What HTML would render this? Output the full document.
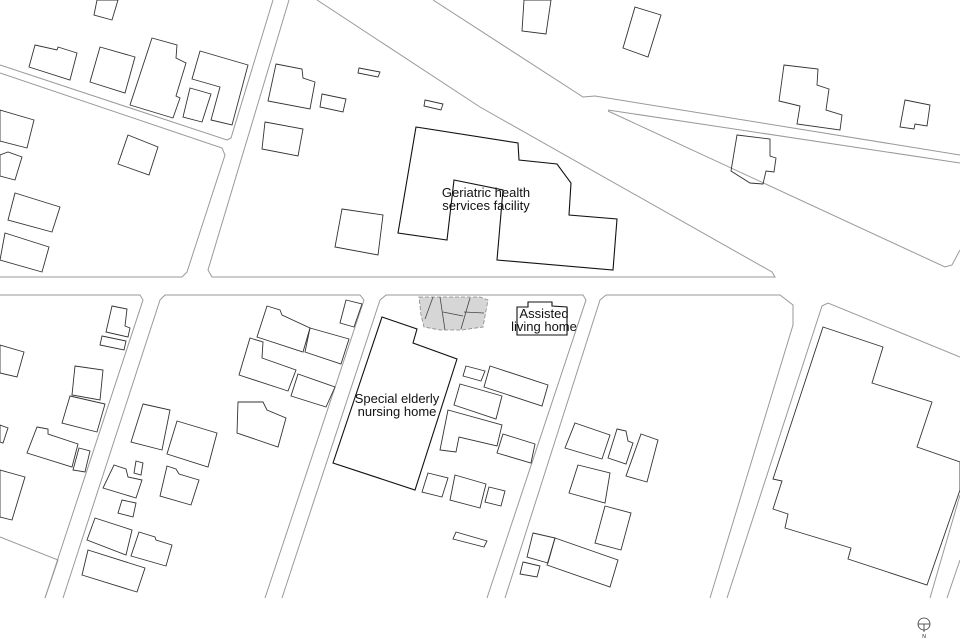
<!DOCTYPE html>
<html><head><meta charset="utf-8"><style>
html,body{margin:0;padding:0;background:#fff;}
svg{display:block;}
text{font-family:"Liberation Sans",sans-serif;font-size:13px;fill:#111;}
</style></head><body>
<svg width="960" height="639" viewBox="0 0 960 639" xmlns="http://www.w3.org/2000/svg">
<g fill="none" stroke="#999" stroke-width="1">
<polyline points="0,65 227,140 231,138 273,0"/>
<polyline points="0,73 222,148 225,155 187,272 182,277 0,277"/>
<polyline points="289,0 208,270 212,277 775,277 772,272 480,107 317,0"/>
<polyline points="433,0 583,97 595,96 960,155"/>
<polyline points="608,110 960,163"/>
<polyline points="608,111 945,267 952,265 960,250"/>
<polyline points="0,295 140,295 143,300 45,598"/>
<polyline points="63,598 160,300 165,295 360,295 364,300 265,598"/>
<polyline points="282,598 380,300 386,295 583,295 586,300 487,598"/>
<polyline points="505,598 600,300 606,295 780,295 793,305 793,325 710,598"/>
<polyline points="727,598 822,306 828,303 960,357"/>
<polyline points="930,598 960,495"/>
<polyline points="947,598 960,560"/>
<polyline points="0,537 58,560 45,598"/>
</g>
<g fill="none" stroke="#333" stroke-width="0.9">
<polygon points="97,0 118,0 112,20 94,15"/>
<polygon points="35,45 57,50 58,47 77,53 70,80 29,67"/>
<polygon points="100,47 135,57 125,93 90,82"/>
<polygon points="152,38 177,45 176,58 186,63 176,96 180,98 173,118 130,105"/>
<polygon points="200,51 248,65 232,125 211,120 220,87 192,79"/>
<polygon points="190,88 211,94 202,122 183,117"/>
<polygon points="0,110 34,120 27,148 0,141"/>
<polygon points="0,155 8,152 22,157 15,180 0,176"/>
<polygon points="15,193 60,207 52,232 8,220"/>
<polygon points="5,233 49,247 42,272 0,260"/>
<polygon points="128,135 158,147 149,175 118,164"/>
<polygon points="276,64 302,69 303,78 315,82 310,109 268,101"/>
<polygon points="322,94 346,99 343,112 320,107"/>
<polygon points="359,68 380,72 378,77 358,73"/>
<polygon points="425,100 443,104 441,110 424,106"/>
<polygon points="265,122 303,129 298,156 262,149"/>
<polygon points="342,209 383,215 378,255 335,247"/>
<polygon points="524,0 551,0 546,34 522,31"/>
<polygon points="635,7 661,15 648,57 623,48"/>
<polygon points="784,65 818,69 817,85 829,89 826,110 842,115 840,130 797,124 800,106 779,101"/>
<polygon points="905,100 930,105 927,126 915,124 914,129 900,127"/>
<polygon points="737,135 770,139 770,156 776,158 774,172 766,171 763,184 750,183 731,171"/>
<polygon points="112,306 127,309 125,326 130,328 128,337 106,332"/>
<polygon points="102,336 126,341 124,350 100,345"/>
<polygon points="0,345 24,352 17,377 0,373"/>
<polygon points="75,366 103,370 100,400 72,395"/>
<polygon points="70,396 105,404 97,432 62,423"/>
<polygon points="37,427 48,429 48,434 78,444 72,467 27,453"/>
<polygon points="79,448 90,451 85,472 73,470"/>
<polygon points="0,470 25,477 12,520 0,517"/>
<polygon points="0,425 8,428 3,443 0,442"/>
<polygon points="143,404 170,410 162,450 131,442"/>
<polygon points="177,421 217,433 208,467 167,454"/>
<polygon points="136,461 143,463 141,475 134,473"/>
<polygon points="114,465 126,469 128,477 142,480 136,498 103,488"/>
<polygon points="167,466 176,469 179,474 199,480 191,505 160,496"/>
<polygon points="122,500 136,503 133,517 118,513"/>
<polygon points="95,518 132,530 126,555 87,540"/>
<polygon points="139,532 155,537 156,540 172,545 166,566 131,556"/>
<polygon points="88,550 145,568 137,592 82,575"/>
<polygon points="267,306 280,310 282,315 310,328 303,352 257,337"/>
<polygon points="310,328 349,339 341,364 305,352"/>
<polygon points="250,338 263,342 262,358 296,370 288,391 239,375"/>
<polygon points="298,374 335,387 326,407 291,396"/>
<polygon points="238,402 263,402 267,410 286,418 278,447 237,433"/>
<polygon points="346,300 362,304 354,327 340,323"/>
<polygon points="466,366 485,371 481,381 463,376"/>
<polygon points="490,366 548,385 542,406 484,387"/>
<polygon points="460,384 502,396 496,419 454,405"/>
<polygon points="448,410 502,425 497,446 459,437 456,452 440,450"/>
<polygon points="503,434 535,444 531,463 497,453"/>
<polygon points="428,473 448,478 442,497 422,492"/>
<polygon points="455,475 486,484 480,508 450,500"/>
<polygon points="489,487 505,491 501,506 485,502"/>
<polygon points="456,532 487,541 484,547 453,539"/>
<polygon points="575,423 610,435 602,459 565,448"/>
<polygon points="617,429 626,431 628,441 633,443 626,464 608,458"/>
<polygon points="641,434 658,440 647,482 626,476"/>
<polygon points="578,465 610,473 605,503 569,493"/>
<polygon points="605,506 631,513 621,550 595,543"/>
<polygon points="533,533 555,538 548,563 527,557"/>
<polygon points="555,538 618,560 610,587 547,565"/>
<polygon points="523,562 540,566 537,577 520,574"/>
<polygon points="823,327 883,347 872,383 932,402 917,447 960,462 960,490 927,585 848,559 851,548 785,528 788,514 773,509 782,481 773,479"/>
</g>
<g fill="none" stroke="#111" stroke-width="1.1">
<polygon points="416,127 518,143 519,160 557,164 571,183 569,215 617,219 613,270 497,260 503,190 454,180 447,240 398,233"/>
<polygon points="382,317 417,329 413,343 457,359 415,490 333,463"/>
<polygon points="517,307 528,307 528,302 552,302 552,306 567,307 567,335 517,335"/>
</g>
<polygon points="419,297 480,297 488,300 483,327 462,330 440,330 424,327 421,315" fill="#d6d6d6" stroke="#888" stroke-width="0.8" stroke-dasharray="4,2"/>
<g stroke="#444" stroke-width="0.8" fill="none">
<polyline points="433,297 425,319"/>
<polyline points="440,297 445,330"/>
<polyline points="443,312 463,316"/>
<polyline points="470,298 461,329"/>
<polyline points="464,312 484,313"/>
</g>
<text x="486" y="197" text-anchor="middle">Geriatric health</text>
<text x="486" y="210" text-anchor="middle">services facility</text>
<text x="397" y="403" text-anchor="middle">Special elderly</text>
<text x="397" y="416" text-anchor="middle">nursing home</text>
<text x="544" y="318" text-anchor="middle">Assisted</text>
<text x="544" y="331" text-anchor="middle">living home</text>
<circle cx="924" cy="624" r="6" fill="none" stroke="#333" stroke-width="0.8"/>
<line x1="918" y1="624" x2="930" y2="624" stroke="#333" stroke-width="0.8"/>
<line x1="924" y1="624" x2="924" y2="632" stroke="#333" stroke-width="0.8"/>
<text x="924" y="638" text-anchor="middle" style="font-size:5px">N</text>
</svg>
</body></html>
